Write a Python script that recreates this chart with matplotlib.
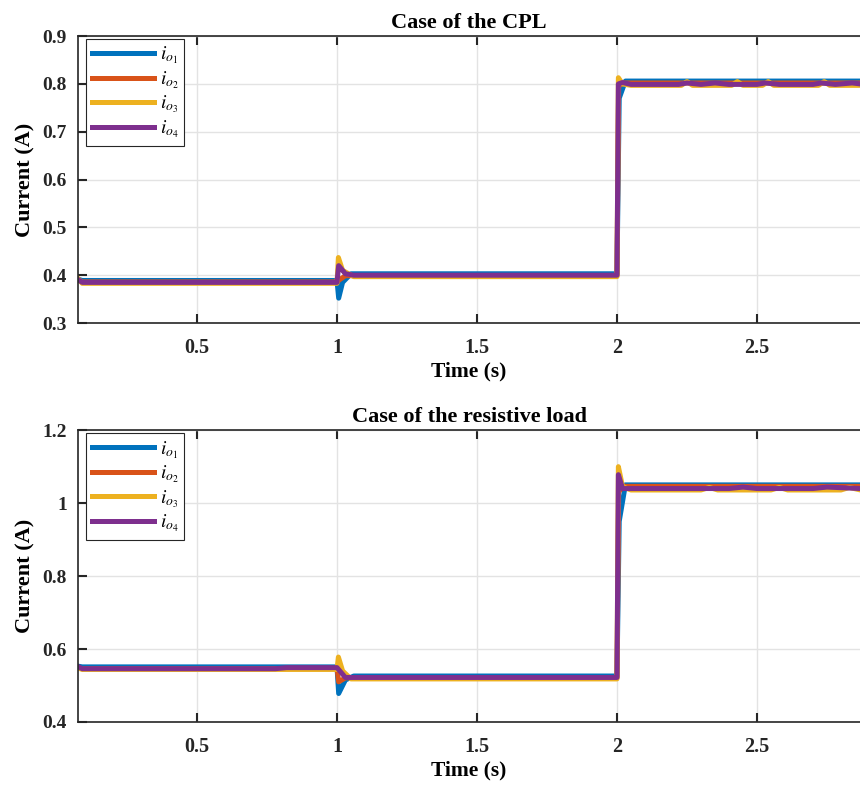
import matplotlib
matplotlib.use("Agg")
import matplotlib.pyplot as plt

plt.rcParams['font.family'] = ['Liberation Serif', 'DejaVu Serif']
plt.rcParams['mathtext.fontset'] = 'stix'

# ====================================================
# Data
# ====================================================

labels = [r'$i_{o_1}$', r'$i_{o_2}$', r'$i_{o_3}$', r'$i_{o_4}$']
colors = ['#0072BD', '#D95319', '#EDB120', '#7E2F8E']

# Case of the CPL
cpl_t1 = [0.075, 0.09, 1.000, 1.006, 1.02, 1.05, 2.000, 2.008, 2.03, 2.87]
cpl_y1 = [0.392, 0.389, 0.389, 0.352, 0.385, 0.403, 0.403, 0.770, 0.806, 0.806]

cpl_t2 = [0.075, 0.09, 1.000, 1.008, 1.03, 2.000, 2.006, 2.02, 2.87]
cpl_y2 = [0.390, 0.386, 0.386, 0.390, 0.399, 0.399, 0.795, 0.802, 0.802]

cpl_t3 = [0.075, 0.09, 1.000, 1.005, 1.02, 1.06, 2.000, 2.005, 2.02, 2.05,
          2.23, 2.25, 2.27, 2.41, 2.43, 2.45, 2.52, 2.54, 2.56,
          2.72, 2.74, 2.76, 2.87]
cpl_y3 = [0.393, 0.383, 0.383, 0.437, 0.410, 0.397, 0.397, 0.813, 0.800, 0.797,
          0.797, 0.805, 0.797, 0.797, 0.805, 0.797, 0.797, 0.805, 0.797,
          0.797, 0.805, 0.797, 0.797]

cpl_t4 = [0.075, 0.09, 1.000, 1.006, 1.03, 1.06, 2.000, 2.005, 2.02, 2.05,
          2.22, 2.25, 2.30, 2.35, 2.40, 2.50, 2.53, 2.58, 2.70, 2.73,
          2.78, 2.84, 2.87]
cpl_y4 = [0.391, 0.385, 0.385, 0.420, 0.403, 0.400, 0.400, 0.800, 0.803, 0.799,
          0.799, 0.802, 0.799, 0.802, 0.799, 0.799, 0.802, 0.799, 0.799, 0.802,
          0.799, 0.802, 0.800]

# Case of the resistive load
res_t1 = [0.075, 0.09, 1.000, 1.006, 1.03, 1.06, 2.000, 2.008, 2.03, 2.87]
res_y1 = [0.553, 0.551, 0.551, 0.478, 0.515, 0.526, 0.526, 0.950, 1.050, 1.050]

res_t2 = [0.075, 0.09, 1.000, 1.006, 1.03, 2.000, 2.006, 2.02, 2.87]
res_y2 = [0.549, 0.546, 0.546, 0.510, 0.521, 0.521, 1.030, 1.046, 1.046]

res_t3 = [0.075, 0.09, 1.000, 1.005, 1.02, 1.05, 2.000, 2.005, 2.02, 2.05,
          2.30, 2.33, 2.36, 2.55, 2.58, 2.61, 2.80, 2.83, 2.87]
res_y3 = [0.548, 0.544, 0.544, 0.578, 0.540, 0.518, 0.518, 1.100, 1.045, 1.036,
          1.036, 1.043, 1.036, 1.036, 1.043, 1.036, 1.036, 1.043, 1.036]

res_t4 = [0.075, 0.09, 0.78, 0.82, 1.000, 1.010, 1.03, 2.000, 2.005, 2.02,
          2.05, 2.40, 2.45, 2.50, 2.70, 2.75, 2.87]
res_y4 = [0.552, 0.546, 0.546, 0.549, 0.549, 0.540, 0.522, 0.522, 1.078, 1.040,
          1.040, 1.040, 1.044, 1.040, 1.040, 1.044, 1.040]

xticks = [0.5, 1, 1.5, 2, 2.5]
xtick_labels = ['0.5', '1', '1.5', '2', '2.5']
cpl_yticks = [0.3, 0.4, 0.5, 0.6, 0.7, 0.8, 0.9]
cpl_ytick_labels = ['0.3', '0.4', '0.5', '0.6', '0.7', '0.8', '0.9']
res_yticks = [0.4, 0.6, 0.8, 1.0, 1.2]
res_ytick_labels = ['0.4', '0.6', '0.8', '1', '1.2']

# ====================================================
# Plotting
# ====================================================

fig = plt.figure(figsize=(8.6, 7.85), dpi=100)
ax1 = fig.add_axes([0.0907, 0.5885, 0.9093, 0.3655])
ax2 = fig.add_axes([0.0907, 0.0803, 0.9093, 0.3717])


def style_axes(ax, title, yticks, ylabels, ylim):
    ax.set_xlim(0.075, 2.868)
    ax.set_ylim(*ylim)
    ax.set_xticks(xticks)
    ax.set_xticklabels(xtick_labels, fontsize=14.5, fontweight='bold')
    ax.set_yticks(yticks)
    ax.set_yticklabels(ylabels, fontsize=14, fontweight='bold')
    ax.tick_params(direction='in', length=6.5, width=1.5, top=True, right=False,
                   colors='#262626')
    ax.tick_params(axis='x', pad=11)
    ax.tick_params(axis='y', pad=8)
    ax.grid(True, color='#e3e3e3', linewidth=1.0)
    ax.set_axisbelow(True)
    for s in ax.spines.values():
        s.set_color('#262626')
        s.set_linewidth(1.2)
    ax.spines['right'].set_visible(False)
    ax.set_title(title, fontsize=16, fontweight='bold', pad=6)
    ax.set_xlabel('Time (s)', fontsize=15.5, fontweight='bold', labelpad=2)
    ax.set_ylabel('Current (A)', fontsize=16, fontweight='bold', labelpad=5)
    leg = ax.legend(loc='upper left', bbox_to_anchor=(0.010, 0.99),
                    borderaxespad=0, fontsize=14, handlelength=3.2,
                    fancybox=False, framealpha=1, edgecolor='#262626',
                    borderpad=0.3, labelspacing=0.15, handletextpad=0.3)
    leg.get_frame().set_linewidth(0.8)


series_cpl = [(cpl_t1, cpl_y1), (cpl_t2, cpl_y2), (cpl_t3, cpl_y3), (cpl_t4, cpl_y4)]
series_res = [(res_t1, res_y1), (res_t2, res_y2), (res_t3, res_y3), (res_t4, res_y4)]

for (t, y), c, lab in zip(series_cpl, colors, labels):
    ax1.plot(t, y, color=c, linewidth=3.6, label=lab, solid_joinstyle='round')
for (t, y), c, lab in zip(series_res, colors, labels):
    ax2.plot(t, y, color=c, linewidth=3.6, label=lab, solid_joinstyle='round')

style_axes(ax1, 'Case of the CPL', cpl_yticks, cpl_ytick_labels, (0.3, 0.9))
style_axes(ax2, 'Case of the resistive load', res_yticks, res_ytick_labels, (0.4, 1.2))

fig.savefig('out.png', dpi=100)
